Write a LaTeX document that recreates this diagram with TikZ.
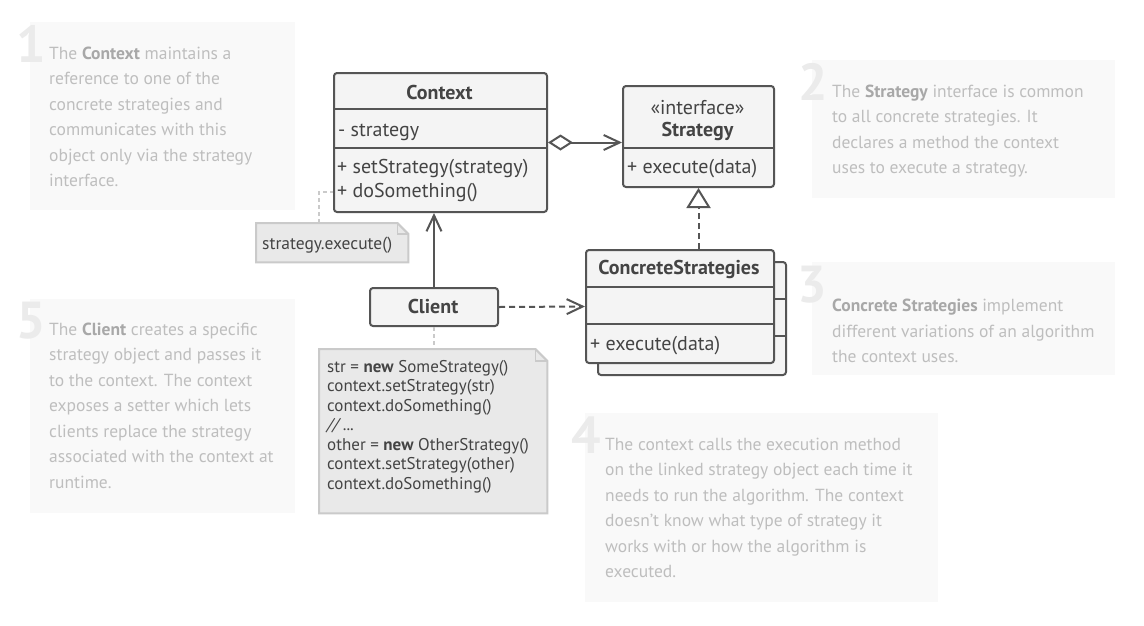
\documentclass[tikz,border=0pt]{standalone}
\usepackage{fontspec}
\setmainfont{PT Sans}
\usetikzlibrary{arrows.meta}
\definecolor{umlline}{HTML}{555555}
\definecolor{boxfill}{HTML}{F4F4F4}
\definecolor{umltxt}{HTML}{444444}
\definecolor{notefill}{HTML}{E9E9E9}
\definecolor{noteline}{HTML}{CACACA}
\definecolor{annfill}{HTML}{F9F9F9}
\definecolor{anntxt}{HTML}{BEBEBE}
\definecolor{annbold}{HTML}{A8A8A8}
\definecolor{annnum}{HTML}{EBEBEB}
\newcommand\annb[1]{{\bfseries\color{annbold}#1}}
\tikzset{
  classbox/.style={draw=umlline, fill=boxfill, line width=2pt, rounded corners=3pt, inner sep=0pt, anchor=north west},
  divider/.style={draw=umlline, line width=2pt},
  umltext/.style={text=umltxt, inner sep=0pt, font=\fontsize{20}{24}\selectfont},
  notebody/.style={draw=noteline, fill=notefill, line width=2pt},
  notetext/.style={text=umltxt, inner sep=0pt, font=\fontsize{17}{19.5}\selectfont, anchor=base west},
  anchorbox/.style={inner sep=0pt, anchor=north west},
  annbox/.style={fill=annfill, inner sep=0pt, anchor=north west},
  anntext/.style={text=anntxt, inner sep=0pt, anchor=base west, font=\fontsize{17.5}{25.5}\selectfont},
  annnumber/.style={text=annnum, inner sep=0pt, anchor=base east, font=\fontsize{52}{52}\selectfont\bfseries},
  conn/.style={draw=umlline, line width=2pt},
  dashconn/.style={conn, dash pattern=on 6pt off 4pt},
  dotconn/.style={draw=noteline, line width=2pt, dash pattern=on 4pt off 3pt},
  barbtip/.tip={Straight Barb[length=16pt,width=15pt,line width=2pt]}
}
\begin{document}
\begin{tikzpicture}[x=1pt,y=-1pt]
\useasboundingbox[fill=white] (0,0) rectangle (1144,625);

% ---------- annotations ----------
\node[annbox, minimum width=265pt, minimum height=188pt] (b1) at (30,22) {};
\node[annnumber] (n1) at (46,62) {1};
\node[anntext] (a1) at (49,59) {\parbox[t]{260pt}{The \annb{Context} maintains a\\reference to one of the\\concrete strategies and\\communicates with this\\object only via the strategy\\interface.}};

\node[annbox, minimum width=303pt, minimum height=138pt] (b2) at (812,60) {};
\node[annnumber] (n2) at (828,100) {2};
\node[anntext] (a2) at (832,97) {\parbox[t]{290pt}{The \annb{Strategy} interface is common\\to all concrete strategies. It\\declares a method the context\\uses to execute a strategy.}};

\node[annbox, minimum width=303pt, minimum height=113pt] (b3) at (812,262) {};
\node[annnumber] (n3) at (827,302) {3};
\node[anntext] (a3) at (832,299) {\parbox[t]{290pt}{\annb{Concrete Strategies} implement\\different variations of an algorithm\\the context uses.}};

\node[annbox, minimum width=353pt, minimum height=189pt] (b4) at (585,413) {};
\node[annnumber] (n4) at (601,453) {4};
\node[anntext] (a4) at (605,450) {\parbox[t]{330pt}{The context calls the execution method\\on the linked strategy object each time it\\needs to run the algorithm. The context\\doesn’t know what type of strategy it\\works with or how the algorithm is\\executed.}};

\node[annbox, minimum width=265pt, minimum height=214pt] (b5) at (30,299) {};
\node[annnumber] (n5) at (46,338) {5};
\node[anntext] (a5) at (49,335) {\parbox[t]{260pt}{The \annb{Client} creates a specific\\strategy object and passes it\\to the context. The context\\exposes a setter which lets\\clients replace the strategy\\associated with the context at\\runtime.}};

% ---------- Context ----------
\node[classbox, minimum width=213pt, minimum height=139pt] (context) at (333,72) {};
\draw[divider] (context.west |- 0,109) -- (context.east |- 0,109);
\draw[divider] (context.west |- 0,148) -- (context.east |- 0,148);
\node[umltext, anchor=base] (ctxname) at (439.5,99) {\bfseries Context};
\node[umltext, anchor=base west] (ctxattr) at (338,136) {- strategy};
\node[umltext, anchor=base west] (ctxm1) at (337,173) {+ setStrategy(strategy)};
\node[umltext, anchor=base west] (ctxm2) at (337,197) {+ doSomething()};

% ---------- Strategy ----------
\node[classbox, minimum width=151pt, minimum height=101pt] (strategy) at (622,85) {};
\draw[divider] (strategy.west |- 0,148) -- (strategy.east |- 0,148);
\node[umltext, anchor=base] (stereo) at (697.5,114) {«interface»};
\node[umltext, anchor=base] (stratname) at (697.5,136) {\bfseries Strategy};
\node[umltext, anchor=base west] (stratm) at (627,173) {+ execute(data)};

% ---------- ConcreteStrategies (stacked) ----------
\node[classbox, minimum width=188pt, minimum height=113pt] (concreteback) at (597,261) {};
\draw[divider] (concreteback.west |- 0,299) -- (concreteback.east |- 0,299);
\draw[divider] (concreteback.west |- 0,336) -- (concreteback.east |- 0,336);
\node[classbox, minimum width=188pt, minimum height=113pt] (concrete) at (585,249) {};
\draw[divider] (concrete.west |- 0,287) -- (concrete.east |- 0,287);
\draw[divider] (concrete.west |- 0,324) -- (concrete.east |- 0,324);
\node[umltext, anchor=base] (concname) at (679,274) {\bfseries ConcreteStrategies};
\node[umltext, anchor=base west] (concm) at (590,350) {+ execute(data)};

% ---------- Client ----------
\node[classbox, minimum width=128pt, minimum height=38pt] (client) at (369,287) {};
\node[umltext, anchor=base] (clientname) at (433,313) {\bfseries Client};

% ---------- notes ----------
\node[anchorbox, minimum width=152pt, minimum height=39pt] (note1) at (256,223) {};
\draw[notebody] (note1.north west) -- ([xshift=-11pt]note1.north east) -- ([yshift=-11pt]note1.north east) -- (note1.south east) -- (note1.south west) -- cycle;
\draw[draw=noteline, line width=1.5pt] ([xshift=-11pt]note1.north east) -- ([xshift=-11pt,yshift=-11pt]note1.north east) -- ([yshift=-11pt]note1.north east);
\node[notetext, font=\fontsize{17.5}{19.5}\selectfont] (note1text) at (262,249) {strategy.execute()};

\node[anchorbox, minimum width=228pt, minimum height=164pt] (note2) at (319,349) {};
\draw[notebody] (note2.north west) -- ([xshift=-12pt]note2.north east) -- ([yshift=-12pt]note2.north east) -- (note2.south east) -- (note2.south west) -- cycle;
\draw[draw=noteline, line width=1.5pt] ([xshift=-12pt]note2.north east) -- ([xshift=-12pt,yshift=-12pt]note2.north east) -- ([yshift=-12pt]note2.north east);
\node[notetext] (note2text) at (327,372) {\parbox[t]{215pt}{str = \textbf{new} SomeStrategy()\\context.setStrategy(str)\\context.doSomething()\\\textit{// ...}\\other = \textbf{new} OtherStrategy()\\context.setStrategy(other)\\context.doSomething()}};

% ---------- connectors ----------
\draw[conn, {Diamond[open,fill=white,length=25pt,width=16pt,line width=2pt]}-barbtip] (context.east) -- (context.east -| strategy.west);
\draw[dashconn, -{Triangle[open,fill=white,length=20pt,width=24pt,line width=2pt]}] (concrete.north -| strategy.south) -- (strategy.south);
\draw[conn, -barbtip] (client.north) -- (client.north |- context.south);
\draw[dashconn, -barbtip] (client.east) -- (concrete.west);
\draw[dotconn] ([xshift=63pt]note1.north west) |- (context.west |- 0,192);
\draw[dotconn] (client.south) -- (client.south |- note2.north);
\end{tikzpicture}
\end{document}
